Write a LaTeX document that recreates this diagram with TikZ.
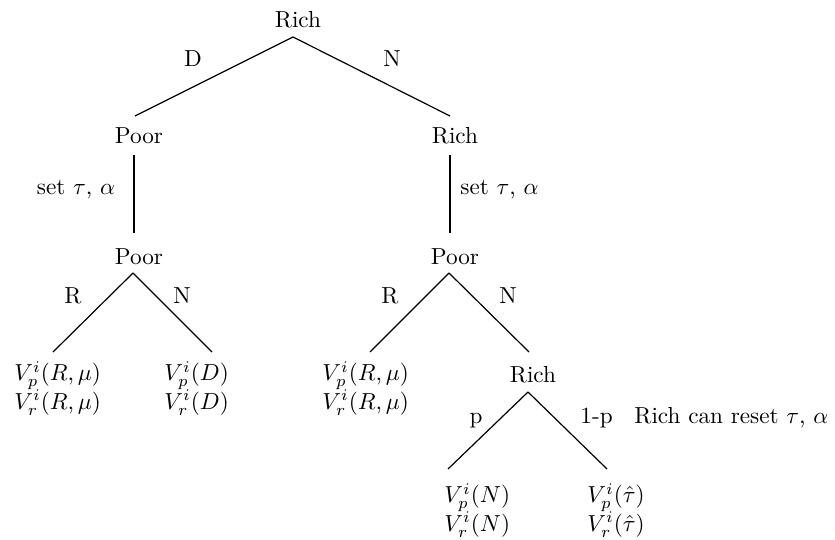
\documentclass[tikz,border=0pt]{standalone}
\begin{document}
\begin{tikzpicture}[x=1pt,y=-1pt,
  every node/.style={inner sep=0pt,scale=2.32,font=\fontsize{10}{12.4}\selectfont},
  txt/.style={anchor=base},
  leaf/.style={anchor=north west,align=left},
  branch/.style={line width=1.2pt}]
\path[use as bounding box] (0,0) rectangle (835,540);
% decision nodes
\node[txt] (r0) at (298,28) {Rich};
\node[txt] (p1) at (139,144) {Poor};
\node[txt] (r1) at (455,144) {Rich};
\node[txt] (p2) at (139,264) {Poor};
\node[txt] (p3) at (455,264) {Poor};
\node[txt] (r2) at (533,382) {Rich};
% leaves
\node[leaf] (l1) at (14,361) {$V_p^i(R,\mu)$\\$V_r^i(R,\mu)$};
\node[leaf] (l2) at (164,361) {$V_p^i(D)$\\$V_r^i(D)$};
\node[leaf] (l3) at (322,361) {$V_p^i(R,\mu)$\\$V_r^i(R,\mu)$};
\node[leaf] (l4) at (444,483) {$V_p^i(N)$\\$V_r^i(N)$};
\node[leaf] (l5) at (587,483) {$V_p^i(\hat\tau)$\\$V_r^i(\hat\tau)$};
% branch labels
\node[txt] (lD) at (193,67) {D};
\node[txt] (lN) at (392,67) {N};
\node[txt] (ls1) at (76,195) {set $\tau$, $\alpha$};
\node[txt,anchor=base west] (ls2) at (460,195) {set $\tau$, $\alpha$};
\node[txt] (lR1) at (73,303) {R};
\node[txt] (lN1) at (182,303) {N};
\node[txt] (lR2) at (390,303) {R};
\node[txt] (lN2) at (508,303) {N};
\node[txt] (lp) at (476,423) {p};
\node[txt,anchor=base west] (lq) at (580,423) {1-p};
\node[txt,anchor=base west] (note) at (634,423) {Rich can reset $\tau$, $\alpha$};
% connectors
\draw[branch] ([shift={(-5,9)}]r0.base) -- ([shift={(-4,-28)}]p1.base);
\draw[branch] ([shift={(-5,9)}]r0.base) -- ([shift={(-5,-28)}]r1.base);
\draw[branch] ([shift={(-5,11)}]p1.base) -- ([shift={(-5,-31)}]p2.base);
\draw[branch] ([shift={(-5,11)}]r1.base) -- ([shift={(-5,-31)}]p3.base);
\draw[branch] ([shift={(-6,9)}]p2.base) -- ([shift={(39,-9)}]l1.north west);
\draw[branch] ([shift={(-6,9)}]p2.base) -- ([shift={(48,-9)}]l2.north west);
\draw[branch] ([shift={(-6,9)}]p3.base) -- ([shift={(48,-9)}]l3.north west);
\draw[branch] ([shift={(-6,9)}]p3.base) -- ([shift={(-4,-30)}]r2.base);
\draw[branch] ([shift={(-5,10)}]r2.base) -- ([shift={(4,-14)}]l4.north west);
\draw[branch] ([shift={(-5,10)}]r2.base) -- ([shift={(20,-14)}]l5.north west);
\end{tikzpicture}
\end{document}
